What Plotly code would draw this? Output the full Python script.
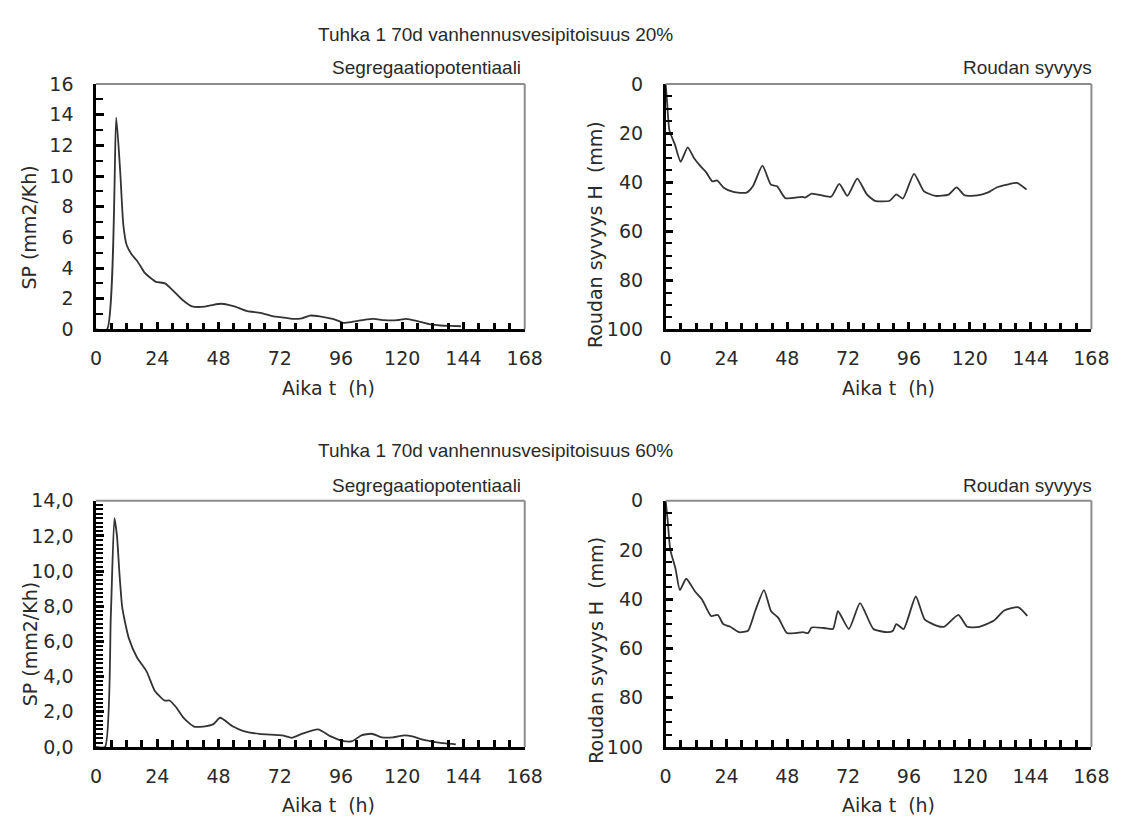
import plotly.graph_objects as go

# --- Tuhka 1 70d, vanhennusvesipitoisuus 20 % ---
sp20_t = [0, 4.3, 7.9, 9.5, 10.7, 12, 13.9, 15.9, 17.5, 19, 21, 23.5, 27, 30, 33.8, 37.6,
          42.7, 46, 49, 51.8, 54.2, 59.3, 64.4, 69.5, 72.2, 77.4, 80.6, 83.8, 87.6, 92.7,
          95.3, 97, 100, 105.5, 109, 113, 118, 121.5, 126, 131, 135, 139, 143]
sp20 = [0, 0, 13.8, 10.2, 6.8, 5.5, 4.9, 4.5, 4.1, 3.7, 3.4, 3.1, 3.0, 2.56, 1.93, 1.5,
        1.48, 1.6, 1.67, 1.6, 1.5, 1.18, 1.08, 0.85, 0.8, 0.68, 0.72, 0.9, 0.85, 0.68,
        0.53, 0.42, 0.47, 0.64, 0.68, 0.6, 0.6, 0.68, 0.53, 0.32, 0.25, 0.22, 0.2]

h20_t = [0, 0.6, 1.5, 3.6, 5.9, 8.7, 11.3, 13.9, 16, 18.4, 20.3, 22.9, 26.7, 31.9, 34.4,
         38.2, 41.5, 44, 47.2, 53.7, 55, 57.6, 60.2, 65.3, 68.5, 71.7, 75.6, 79.4, 82.6,
         88.4, 91, 93.6, 98, 101.9, 106.4, 111.6, 114.8, 118, 123, 127, 130.8, 134.7,
         138.6, 142.4]
h20 = [0, 8, 19, 24.5, 31.7, 25.8, 30.4, 33.7, 36, 39.7, 39.3, 42.3, 44, 44.3, 41.7,
       33.3, 41, 41.7, 46.5, 46, 46.3, 44.7, 45.1, 45.9, 40.7, 45.6, 38.6, 45, 47.6,
       47.6, 45, 46.7, 36.6, 43.7, 45.6, 45.1, 42.1, 45.4, 45.4, 44.3, 42.1, 41, 40.3, 43]

# --- Tuhka 1 70d, vanhennusvesipitoisuus 60 % ---
sp60_t = [0, 3.5, 5.8, 7.2, 8.2, 9.2, 10.2, 11.2, 12.8, 16, 19.8, 23, 26.8, 28.8, 31.3,
          34.5, 38.4, 42, 46, 48.6, 53.7, 57.5, 64, 72.9, 76.7, 80.6, 87, 92, 97, 100.4,
          104, 108, 112, 116.4, 121, 124, 128, 133, 137, 141]
sp60 = [0, 0, 7.5, 13.0, 12.0, 9.8, 8.0, 7.2, 6.2, 5.1, 4.3, 3.2, 2.64, 2.64, 2.27,
        1.62, 1.16, 1.16, 1.3, 1.66, 1.16, 0.92, 0.74, 0.66, 0.52, 0.74, 1.0, 0.6, 0.33,
        0.33, 0.66, 0.75, 0.55, 0.55, 0.66, 0.6, 0.42, 0.28, 0.2, 0.15]

h60_t = [0, 0.8, 1.8, 3.9, 5.6, 8.1, 11.6, 14.4, 17.9, 20.6, 22.7, 25.5, 29, 32.5, 35.3,
         38.8, 41.6, 44.4, 47.8, 51.3, 54.1, 56.2, 57.6, 62.5, 66, 68, 72.3, 76.7, 82,
         87.6, 89.7, 91, 93.9, 98.7, 102.2, 107.1, 109.9, 115.5, 119, 123.8, 129.4,
         133.6, 139.2, 142.7]
h60 = [0, 8, 19.8, 27.7, 36.3, 31.7, 36.9, 40.2, 46.8, 46.4, 50.1, 51.2, 53.4, 52.8,
       44.9, 36.3, 44.9, 47.5, 53.7, 53.8, 53.4, 53.8, 51.5, 51.7, 52.1, 44.9, 52.1,
       41.6, 52.1, 53.4, 52.8, 50.1, 52.1, 38.9, 48.2, 50.8, 51.2, 46.4, 51.2, 51.2,
       48.8, 44.6, 43.3, 46.8]

# tick labels
x_ticks = [0, 24, 48, 72, 96, 120, 144, 168]
sp20_ticks = [0, 2, 4, 6, 8, 10, 12, 14, 16]
sp60_ticks = [0, 2, 4, 6, 8, 10, 12, 14]
sp60_ticktext = ["0,0", "2,0", "4,0", "6,0", "8,0", "10,0", "12,0", "14,0"]
h_ticks = [0, 20, 40, 60, 80, 100]

titles = ["Tuhka 1 70d vanhennusvesipitoisuus 20%", "Tuhka 1 70d vanhennusvesipitoisuus 60%"]
sp_name = "Segregaatiopotentiaali"
h_name = "Roudan syvyys"
x_title = "Aika t\u00a0 (h)"
sp_ytitle = "SP (mm2/Kh)"
h_ytitle = "Roudan syvyys H\u00a0 (mm)"

W, H = 1128, 830
TICK_FONT = dict(family="DejaVu Sans", size=19, color="#2a2a2a")
TEXT_FONT = dict(family="Liberation Sans", size=19, color="#2a2a2a")
LINE = dict(color="#333333", width=1.8, shape="spline", smoothing=0.55)
TICK_COLOR = "#000000"


def px(x):
    return x / W


def py(y):
    return 1 - y / H


# plot areas in pixels: (left, right, top, bottom)
boxes = {
    1: (92, 530, 75, 327),
    2: (674, 1109, 75, 327),
    3: (92, 530, 503, 756),
    4: (674, 1109, 503, 756),
}

fig = go.Figure()
series = [(sp20_t, sp20), (h20_t, h20), (sp60_t, sp60), (h60_t, h60)]
for i, (t, v) in enumerate(series, start=1):
    sfx = "" if i == 1 else str(i)
    fig.add_trace(go.Scatter(x=t, y=v, mode="lines", line=LINE, showlegend=False,
                             xaxis="x" + sfx, yaxis="y" + sfx, hoverinfo="skip"))

yspec = {
    1: dict(range=[0, 16], tickvals=sp20_ticks, ticktext=[str(v) for v in sp20_ticks], minor_dtick=1),
    2: dict(range=[100, 0], tickvals=h_ticks, ticktext=[str(v) for v in h_ticks], minor_dtick=5),
    3: dict(range=[0, 14], tickvals=sp60_ticks, ticktext=sp60_ticktext, minor_dtick=0.25),
    4: dict(range=[100, 0], tickvals=h_ticks, ticktext=[str(v) for v in h_ticks], minor_dtick=5),
}

layout = dict(width=W, height=H, margin=dict(l=0, r=0, t=0, b=0),
              paper_bgcolor="white", plot_bgcolor="white", showlegend=False)

for i, (l, r, t, b) in boxes.items():
    sfx = "" if i == 1 else str(i)
    layout["xaxis" + sfx] = dict(
        domain=[px(l), px(r)], anchor="y" + sfx, range=[0, 168],
        tickmode="array", tickvals=x_ticks, ticktext=[str(v) for v in x_ticks],
        ticks="inside", ticklen=8, tickwidth=2.5, tickcolor=TICK_COLOR,
        minor=dict(dtick=6, tick0=0, ticks="inside", ticklen=7, tickwidth=2.5,
                   tickcolor=TICK_COLOR, showgrid=False),
        showline=True, linecolor="black", linewidth=2.5, showgrid=False, zeroline=False,
        tickfont=TICK_FONT, ticklabelstandoff=10, layer="above traces",
    )
    ys = yspec[i]
    layout["yaxis" + sfx] = dict(
        domain=[py(b), py(t)], anchor="x" + sfx, range=ys["range"],
        tickmode="array", tickvals=ys["tickvals"], ticktext=ys["ticktext"],
        ticks="inside", ticklen=8, tickwidth=2.5, tickcolor=TICK_COLOR,
        minor=dict(dtick=ys["minor_dtick"], tick0=0, ticks="inside", ticklen=7,
                   tickwidth=2 if i != 3 else 1.5, tickcolor=TICK_COLOR, showgrid=False),
        showline=True, linecolor="black", linewidth=2.5, showgrid=False, zeroline=False,
        tickfont=TICK_FONT, ticklabelstandoff=16, layer="above traces",
    )

fig.update_layout(**layout)

# grey top and right frame lines
for i in boxes:
    sfx = "" if i == 1 else str(i)
    xr, yr = "x" + sfx + " domain", "y" + sfx + " domain"
    fig.add_shape(type="line", xref=xr, yref=yr, x0=0, x1=1, y0=1, y1=1,
                  line=dict(color="#8c8c8c", width=2))
    fig.add_shape(type="line", xref=xr, yref=yr, x0=1, x1=1, y0=0, y1=1,
                  line=dict(color="#8c8c8c", width=2))

ann = []


def text(s, x, y, xanchor="center", font=TEXT_FONT, angle=0):
    ann.append(dict(text=s, x=px(x), y=py(y), xref="paper", yref="paper",
                    xanchor=xanchor, yanchor="middle", showarrow=False,
                    font=font, textangle=angle))


# figure titles and panel names
text(titles[0], 500, 24)
text(titles[1], 500, 451)
text(sp_name, 528, 58, xanchor="right")
text(h_name, 1112, 58, xanchor="right")
text(sp_name, 528, 487, xanchor="right")
text(h_name, 1112, 487, xanchor="right")

# axis titles
for yb in (387, 816):
    text(x_title, 330, yb, font=TICK_FONT)
    text(x_title, 902, yb, font=TICK_FONT)
text(sp_ytitle, 24, 222, font=TICK_FONT, angle=-90)
text(sp_ytitle, 24, 650, font=TICK_FONT, angle=-90)
text(h_ytitle, 602, 230, font=TICK_FONT, angle=-90)
text(h_ytitle, 602, 657, font=TICK_FONT, angle=-90)

fig.update_layout(annotations=ann)
fig.write_html("out.html")
